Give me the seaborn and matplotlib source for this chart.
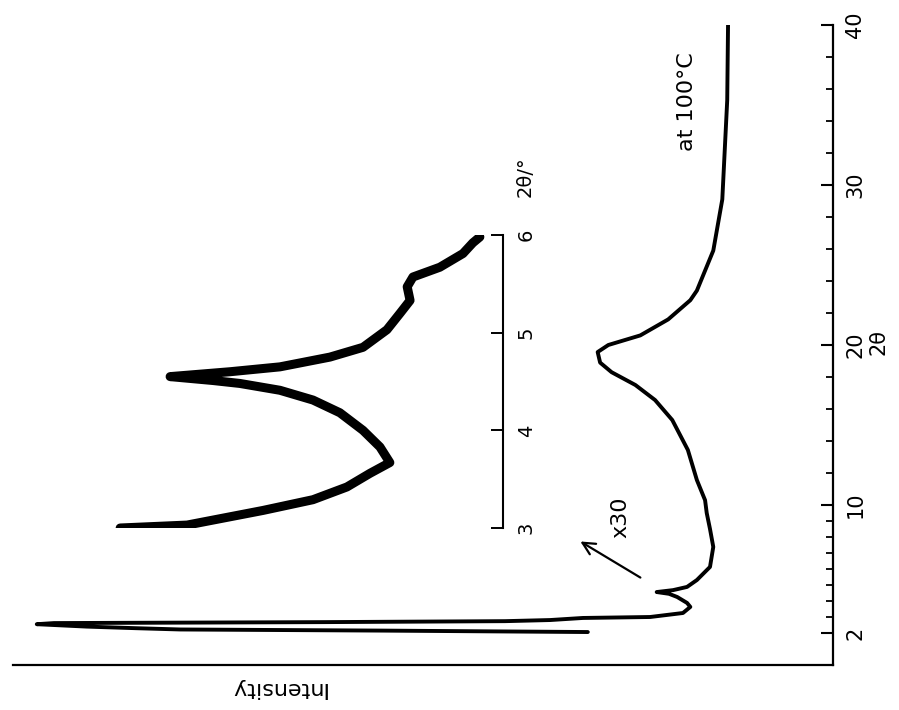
import matplotlib
matplotlib.use("Agg")
import matplotlib.pyplot as plt
import seaborn as sns
import pandas as pd

# main XRD trace (intensity in a.u., 0-100 across the axis)
two_theta = [2.06, 2.15, 2.22, 2.30, 2.40, 2.55, 2.62, 2.68, 2.74, 2.81, 2.94, 3.00,
             3.25, 3.63, 3.88, 4.25, 4.45, 4.56, 4.68, 4.88, 5.31, 6.13, 7.38, 8.5,
             9.5, 10.3, 11.56, 13.44, 15.31, 16.56, 17.5, 18.3, 18.9, 19.56, 20.0,
             20.6, 21.6, 22.8, 23.4, 25.9, 29.1, 32.2, 35.3, 40.0]
intensity = [29.9, 55.0, 79.6, 85.0, 91.0, 97.1, 95.0, 62.0, 40.0, 34.5, 30.5, 22.3,
             18.3, 17.4, 17.8, 19.0, 20.0, 21.5, 19.5, 17.8, 16.6, 15.0, 14.6, 15.0,
             15.4, 15.6, 16.6, 17.7, 19.6, 21.7, 24.1, 27.0, 28.4, 28.7, 27.4,
             23.5, 20.1, 17.4, 16.6, 14.6, 13.5, 13.2, 12.9, 12.8]

# inset: 3-6 deg region, x30
inset_theta = [3.00, 3.03, 3.18, 3.29, 3.42, 3.56, 3.67, 3.83, 4.00, 4.18, 4.31, 4.41,
               4.48, 4.51, 4.55, 4.60, 4.65, 4.75, 4.85, 5.03, 5.20, 5.33, 5.47, 5.57,
               5.67, 5.81, 5.92, 5.98]
inset_int = [92.7, 76.5, 58.1, 46.0, 37.8, 32.2, 27.4, 29.8, 33.9, 39.5, 46.0, 54.0,
             63.7, 70.2, 80.6, 66.1, 54.0, 41.9, 33.9, 28.1, 24.9, 22.5, 23.2, 21.8,
             15.3, 9.7, 7.3, 5.6]

main_ticks = [2, 10, 20, 30, 40]
minor_ticks = [3, 4, 5, 6, 7, 8, 9, 12, 14, 16, 18, 22, 24, 26, 28, 32, 34, 36, 38]
inset_ticks = [3, 4, 5, 6]

sns.set_style("white")
plt.rcParams['font.family'] = ['DejaVu Sans']
for k in ['text.color', 'axes.labelcolor', 'xtick.color', 'ytick.color']:
    plt.rcParams[k] = 'black'

W, H = 899, 710
fig = plt.figure(figsize=(W / 100, H / 100), dpi=100)

def box(l, t, r, b):
    return [l / W, 1 - b / H, (r - l) / W, (b - t) / H]

ax = fig.add_axes(box(13, 25, 833, 665))
df = pd.DataFrame({'I': intensity, 'tt': two_theta})
sns.lineplot(data=df, x='I', y='tt', sort=False, estimator=None, errorbar=None,
             color='black', lw=2.8, ax=ax)
ax.set_xlim(100, 0)
ax.set_ylim(0, 40)
for s in ['left', 'top']:
    ax.spines[s].set_visible(False)
for s in ['right', 'bottom']:
    ax.spines[s].set_linewidth(1.6)
    ax.spines[s].set_color('black')
ax.yaxis.tick_right()
ax.yaxis.set_label_position('right')
ax.set_yticks(main_ticks)
ax.set_yticks(minor_ticks, minor=True)
ax.tick_params(axis='y', which='major', direction='in', length=9, width=1.5,
               labelsize=15, pad=9, labelrotation=90)
ax.tick_params(axis='y', which='minor', direction='in', length=5, width=1.3)
for t in ax.get_yticklabels():
    t.set_va('center')
ax.set_xticks([])
ax.set_ylabel('2θ', fontsize=15, rotation=90, labelpad=2)
ax.yaxis.set_label_coords(1.043, 0.505)
ax.set_xlabel('Intensity', fontsize=16, rotation=180, labelpad=6)
ax.xaxis.set_label_coords((277 - 13) / 820, -0.02)

ax.text(17.8, 35.2, 'at 100°C', rotation=90, fontsize=16, ha='center', va='center')
ax.text(25.9, 9.25, 'x30', rotation=90, fontsize=16, ha='center', va='center')
ax.annotate('', xy=(31.1, 7.81), xytext=(23.2, 5.375),
            arrowprops=dict(arrowstyle='->', lw=1.6, color='black', mutation_scale=22))

# inset
ins = fig.add_axes(box(90, 235, 503, 528))
di = pd.DataFrame({'I': inset_int, 'tt': inset_theta})
sns.lineplot(data=di, x='I', y='tt', sort=False, estimator=None, errorbar=None,
             color='black', lw=6.5, ax=ins)
ins.set_xlim(100, 0)
ins.set_ylim(3, 6)
ins.patch.set_alpha(0)
for s in ['left', 'top', 'bottom']:
    ins.spines[s].set_visible(False)
ins.spines['right'].set_linewidth(1.5)
ins.spines['right'].set_color('black')
ins.yaxis.tick_right()
ins.set_yticks(inset_ticks)
ins.tick_params(axis='y', direction='in', length=9, width=1.4, labelsize=14,
                pad=10, labelrotation=90)
for t in ins.get_yticklabels():
    t.set_va('center')
ins.set_xticks([])
ins.set_xlabel('')
ins.set_ylabel('')
fig.text(525 / W, 1 - 177 / H, '2θ/°', rotation=90, fontsize=14, ha='center', va='center')

fig.savefig('out.png', dpi=100)
